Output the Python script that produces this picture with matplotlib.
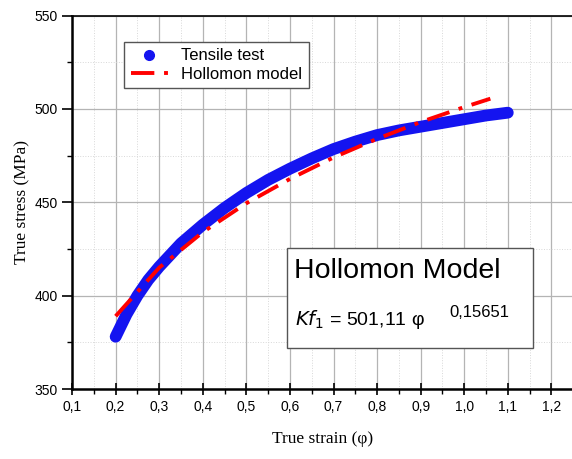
import matplotlib.pyplot as plt
from matplotlib.lines import Line2D
from matplotlib.patches import Rectangle
from matplotlib.ticker import MultipleLocator, FuncFormatter

# values
strain_test = [0.20, 0.225, 0.25, 0.275, 0.30, 0.35, 0.40, 0.45, 0.50, 0.55, 0.60, 0.65,
               0.70, 0.75, 0.80, 0.85, 0.90, 0.95, 1.00, 1.05, 1.10]
stress_test = [378, 390, 400, 408.5, 415.5, 428, 438, 447, 455, 462, 468, 473.5,
               478.5, 482.5, 486, 488.5, 490.5, 492.5, 494.5, 496.5, 498]

strain_model = [0.20, 0.30, 0.40, 0.50, 0.60, 0.70, 0.80, 0.90, 1.00, 1.06]
stress_model = [389, 415, 434, 449.5, 462.5, 474, 484, 493, 501, 505.5]

plt.rcParams['font.family'] = ['Liberation Sans', 'DejaVu Sans']

fig = plt.figure(figsize=(5.72, 4.59), dpi=100)
ax = fig.add_axes([0.126, 0.1525, 0.876, 0.8135])

ax.set_xlim(0.1, 1.25)
ax.set_ylim(350, 550)
ax.xaxis.set_major_locator(MultipleLocator(0.1))
ax.xaxis.set_minor_locator(MultipleLocator(0.05))
ax.yaxis.set_major_locator(MultipleLocator(50))
ax.yaxis.set_minor_locator(MultipleLocator(25))
ax.xaxis.set_major_formatter(FuncFormatter(lambda v, p: ('%.1f' % v).replace('.', ',')))
ax.grid(which='major', color='#b4b4b4', lw=0.9)
ax.grid(which='minor', color='#d8d8d8', lw=0.7, ls=':')
ax.set_axisbelow(True)
ax.tick_params(which='major', direction='out', length=7, width=1.2, labelsize=10)
ax.tick_params(which='minor', direction='out', length=3.5, width=1)
ax.tick_params(axis='x', which='major', direction='inout', length=9)
for s in ax.spines.values():
    s.set_linewidth(1.2)
ax.spines['left'].set_linewidth(1.8)
ax.spines['bottom'].set_linewidth(1.8)

ax.plot(strain_test, stress_test, color='#1414f0', lw=8.5, solid_capstyle='round',
        solid_joinstyle='round', zorder=3)
ax.plot(strain_model, stress_model, color='#ff0000', lw=2.8,
        dashes=(6, 2.5, 1, 2.5), zorder=4)

ax.set_xlabel('True strain (φ)', family='Liberation Serif', fontsize=12.5, labelpad=12)
ax.set_ylabel('True stress (MPa)', family='Liberation Serif', fontsize=12.5, labelpad=3)

handles = [Line2D([], [], color='#1414f0', marker='o', ls='none', ms=7),
           Line2D([], [], color='#ff0000', lw=2.8, dashes=(6, 2.5, 1, 2.5))]
ax.legend(handles, ['Tensile test', 'Hollomon model'], loc='upper left',
          bbox_to_anchor=(0.104, 0.93), borderaxespad=0, fancybox=False,
          edgecolor='#555555', framealpha=1, fontsize=12, handlelength=2.2,
          borderpad=0.4, labelspacing=0.2)

ax.add_patch(Rectangle((0.429, 0.11), 0.491, 0.268, transform=ax.transAxes,
                       facecolor='white', edgecolor='#555555', lw=1, zorder=5))
ax.text(0.442, 0.315, 'Hollomon Model', transform=ax.transAxes, fontsize=20.5,
        va='center', zorder=6)
ax.text(0.445, 0.185, '$\\it{Kf}_1$ = 501,11 φ', transform=ax.transAxes, fontsize=14,
        va='center', zorder=6)
ax.text(0.752, 0.205, '0,15651', transform=ax.transAxes, fontsize=12,
        va='center', zorder=6)

fig.savefig('out.png', dpi=100)
